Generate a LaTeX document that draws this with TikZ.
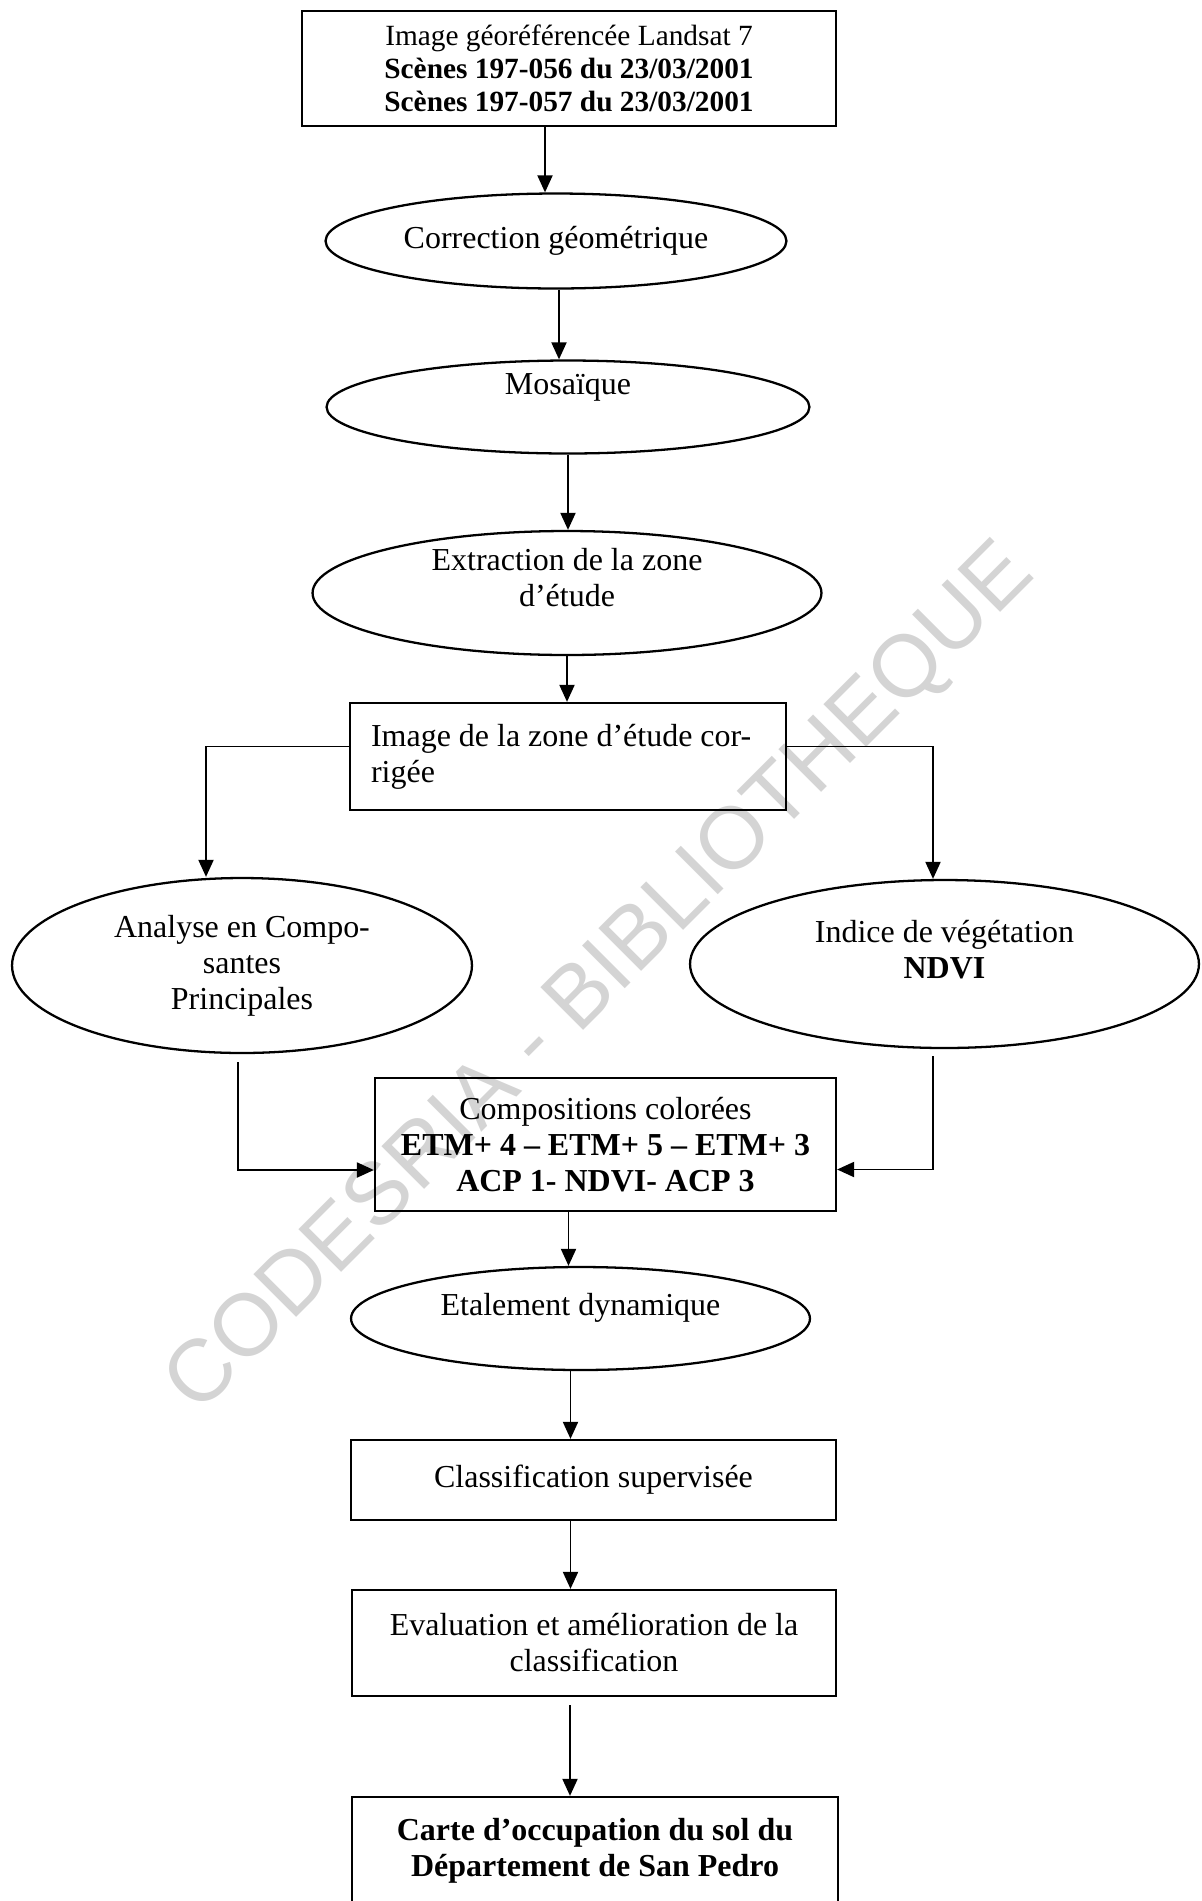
\documentclass[tikz,border=0pt]{standalone}
\usepackage{fontspec}
\setmainfont{Liberation Serif}
\newfontfamily\wmfont{Liberation Sans}
\usetikzlibrary{arrows.meta,shapes.geometric}

\begin{document}
\begin{tikzpicture}[
        x=0.02cm, y=-0.02cm,
        font=\fontsize{18.2}{20.5}\selectfont,
        box/.style={rectangle, draw, line width=1.3pt, align=center, inner sep=0pt},
        oval/.style={ellipse, draw, line width=1.3pt, align=center, inner sep=0pt},
        arrow/.style={-{Triangle[length=0.34cm, width=0.3cm]}, line width=1.1pt}
    ]
        \useasboundingbox (0,0) rectangle (1202,1901);
        \clip (0,0) rectangle (1202,1901);

        % Watermark
        \node[text=black!17, font=\wmfont\fontsize{50}{60}\selectfont, rotate=45] (wm) at (602,980) {CODESRIA - BIBLIOTHEQUE};

        % Boxes
        \node[box, minimum width=10.68cm, minimum height=2.3cm, font=\fontsize{16.7}{18.8}\selectfont] (src) at (569,68.5) {
            Image géoréférencée Landsat 7\\
            \textbf{Scènes 197-056 du 23/03/2001}\\
            \textbf{Scènes 197-057 du 23/03/2001}
        };

        \node[oval, minimum width=9.22cm, minimum height=1.9cm] (geo) at (556,241) {Correction géométrique};

        \node[oval, minimum width=9.66cm, minimum height=1.86cm] (mos) at (568,407) {};
        \node (mos-t) at ([yshift=0.4cm]mos.center) {Mosaïque};

        \node[oval, minimum width=10.18cm, minimum height=2.48cm] (ext) at (567,593) {};
        \node[align=center] (ext-t) at ([yshift=0.3cm]ext.center) {
            Extraction de la zone\\
            d’étude
        };

        \node[box, minimum width=8.72cm, minimum height=2.14cm, align=flush left, text width=7.88cm] (zone) at (568,756.5) {
            Image de la zone d’étude cor-\\
            rigée
        };

        \node[oval, minimum width=9.2cm, minimum height=3.5cm] (acp) at (242,965.5) {
            Analyse en Compo-\\
            santes\\
            Principales
        };

        \node[oval, minimum width=10.18cm, minimum height=3.36cm] (ndvi) at (944.5,964) {};
        \node[align=center] (ndvi-t) at ([yshift=0.28cm]ndvi.center) {
            Indice de végétation\\
            \textbf{NDVI}
        };

        \node[box, minimum width=9.22cm, minimum height=2.66cm] (comp) at (605.5,1144.5) {
            Compositions colorées\\
            \textbf{ETM+ 4 – ETM+ 5 – ETM+ 3}\\
            \textbf{ACP 1- NDVI- ACP 3}
        };

        \node[oval, minimum width=9.18cm, minimum height=2.06cm] (etal) at (580.5,1318.5) {};
        \node (etal-t) at ([yshift=0.22cm]etal.center) {Etalement dynamique};

        \node[box, minimum width=9.7cm, minimum height=1.6cm] (clas) at (593.5,1480) {Classification supervisée};

        \node[box, minimum width=9.68cm, minimum height=2.12cm] (eval) at (594,1643) {
            Evaluation et amélioration de la\\
            classification
        };

        \node[box, minimum width=9.72cm, minimum height=2.16cm] (carte) at (595,1851) {
            \textbf{Carte d’occupation du sol du}\\
            \textbf{Département de San Pedro}
        };

        % Arrows
        \draw[arrow] ([xshift=-0.48cm]src.south) -- ([xshift=-0.48cm]src.south |- geo.north);
        \draw[arrow] ([xshift=0.06cm]geo.south) -- ([xshift=0.06cm]geo.south |- mos.north);
        \draw[arrow] (mos.south) -- (mos.south |- ext.north);
        \draw[arrow] (ext.south) -- (ext.south |- zone.north);
        \draw[arrow] ([yshift=0.2cm]zone.west) -| ([xshift=-0.72cm]acp.north);
        \draw[arrow] ([yshift=0.2cm]zone.east) -| ([xshift=-0.23cm]ndvi.north);
        \draw[arrow] ([xshift=-0.08cm, yshift=-0.16cm]acp.south) |- ([yshift=-0.51cm]comp.west);
        \draw[arrow] ([xshift=-0.23cm, yshift=-0.14cm]ndvi.south) |- ([yshift=-0.5cm]comp.east);
        \draw[arrow] ([xshift=-0.74cm]comp.south) -- ([xshift=-0.74cm]comp.south |- etal.north);
        \draw[arrow] ([xshift=-0.2cm]etal.south) -- ([xshift=-0.2cm]etal.south |- clas.north);
        \draw[arrow] ([xshift=-0.46cm]clas.south) -- ([xshift=-0.46cm]clas.south |- eval.north);
        \draw[arrow] ([xshift=-0.48cm, yshift=-0.16cm]eval.south) -- ([xshift=-0.48cm]eval.south |- carte.north);
    \end{tikzpicture}
\end{document}
